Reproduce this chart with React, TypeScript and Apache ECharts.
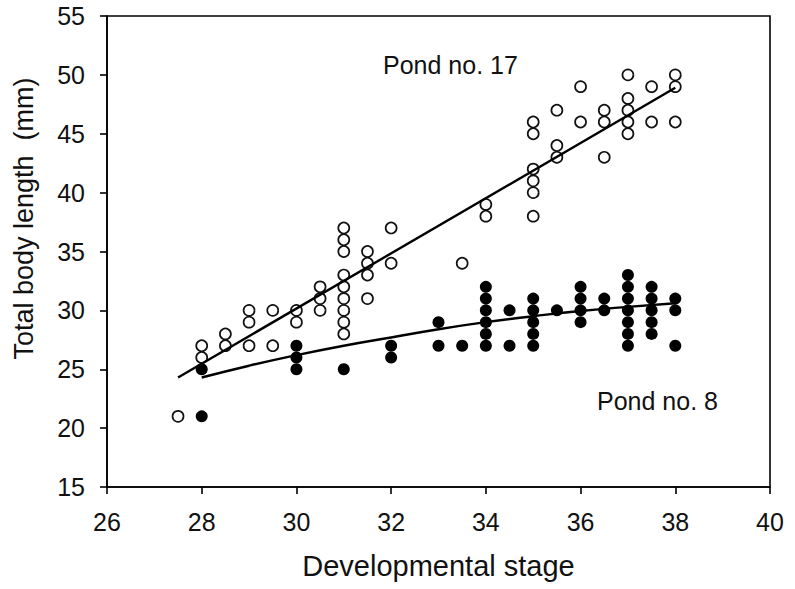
import React, { useEffect, useRef } from "react";
import * as echarts from "echarts";

const xTicks = [26, 28, 30, 32, 34, 36, 38, 40];
const yTicks = [15, 20, 25, 30, 35, 40, 45, 50, 55];

// Pond no. 17 (open circles)
const pond17Points: [number, number][] = [
  [27.5, 21],
  [28, 27], [28, 26],
  [28.5, 28], [28.5, 27],
  [29, 30], [29, 29], [29, 27],
  [29.5, 30], [29.5, 27],
  [30, 30], [30, 29],
  [30.5, 32], [30.5, 31], [30.5, 30],
  [31, 37], [31, 36], [31, 35], [31, 33], [31, 32], [31, 31], [31, 30], [31, 29], [31, 28],
  [31.5, 35], [31.5, 34], [31.5, 33], [31.5, 31],
  [32, 37], [32, 34],
  [33.5, 34],
  [34, 39], [34, 38],
  [35, 46], [35, 45], [35, 42], [35, 41], [35, 40], [35, 38],
  [35.5, 47], [35.5, 44], [35.5, 43],
  [36, 49], [36, 46],
  [36.5, 47], [36.5, 46], [36.5, 43],
  [37, 50], [37, 48], [37, 47], [37, 46], [37, 45],
  [37.5, 49], [37.5, 46],
  [38, 50], [38, 49], [38, 46],
];

// Pond no. 8 (filled circles)
const pond8Points: [number, number][] = [
  [28, 25], [28, 21],
  [30, 27], [30, 26], [30, 25],
  [31, 25],
  [32, 27], [32, 26],
  [33, 29], [33, 27],
  [33.5, 27],
  [34, 32], [34, 31], [34, 30], [34, 29], [34, 28], [34, 27],
  [34.5, 30], [34.5, 27],
  [35, 31], [35, 30], [35, 29], [35, 28], [35, 27],
  [35.5, 30],
  [36, 32], [36, 31], [36, 30], [36, 29],
  [36.5, 31], [36.5, 30],
  [37, 33], [37, 32], [37, 31], [37, 30], [37, 29], [37, 28], [37, 27],
  [37.5, 32], [37.5, 31], [37.5, 30], [37.5, 29], [37.5, 28],
  [38, 31], [38, 30], [38, 27],
];

// Fitted lines
const pond17Fit: [number, number][] = [
  [27.5, 24.3],
  [38, 48.9],
];
const pond8Fit: [number, number][] = [
  [28, 24.3], [29, 25.3], [30, 26.2], [31, 27.0], [32, 27.7], [33, 28.4],
  [34, 29.0], [35, 29.5], [36, 29.95], [37, 30.3], [38, 30.6],
];

const labels = {
  pond17: "Pond no. 17",
  pond8: "Pond no. 8",
  xName: "Developmental stage",
  yName: "Total body length  (mm)",
};

const FONT = "'Liberation Sans', Arial, Helvetica, sans-serif";

export default function App() {
  const ref = useRef<HTMLDivElement>(null);
  useEffect(() => {
    if (!ref.current) return;
    const chart = echarts.init(ref.current, undefined, { renderer: "svg" });
    const axisCommon = {
      axisLine: { show: true, lineStyle: { color: "#000", width: 1.6 } },
      axisTick: { show: true, inside: false, length: 7, lineStyle: { color: "#000", width: 1.6 } },
      splitLine: { show: false },
    };
    chart.setOption({
      animation: false,
      backgroundColor: "#fff",
      textStyle: { fontFamily: FONT },
      grid: {
        left: 107,
        right: 25,
        top: 16,
        bottom: 102,
        show: true,
        borderColor: "#000",
        borderWidth: 1.6,
      },
      xAxis: {
        type: "value",
        min: xTicks[0],
        max: xTicks[xTicks.length - 1],
        interval: 2,
        name: labels.xName,
        nameLocation: "middle",
        nameGap: 64,
        nameTextStyle: { fontFamily: FONT, fontSize: 29, color: "#111", verticalAlign: "top" },
        ...axisCommon,
        axisLabel: { fontFamily: FONT, fontSize: 25, color: "#111", margin: 22 },
      },
      yAxis: {
        type: "value",
        min: yTicks[0],
        max: yTicks[yTicks.length - 1],
        interval: 5,
        name: labels.yName,
        nameLocation: "middle",
        nameGap: 70,
        nameTextStyle: {
          fontFamily: FONT,
          fontSize: 27,
          color: "#111",
          padding: [0, 0, 0, 66],
        },
        ...axisCommon,
        axisLabel: { fontFamily: FONT, fontSize: 25, color: "#111", margin: 22 },
      },
      series: [
        {
          type: "scatter",
          data: pond17Points,
          symbol: "circle",
          symbolSize: 11,
          itemStyle: { color: "#fff", borderColor: "#111", borderWidth: 1.7, opacity: 1 },
          z: 2,
        },
        {
          type: "scatter",
          data: pond8Points,
          symbol: "circle",
          symbolSize: 12,
          itemStyle: { color: "#000", opacity: 1 },
          z: 2,
        },
        {
          type: "line",
          data: pond17Fit,
          showSymbol: false,
          symbol: "none",
          lineStyle: { color: "#000", width: 2.4 },
          z: 3,
        },
        {
          type: "line",
          data: pond8Fit,
          smooth: true,
          showSymbol: false,
          symbol: "none",
          lineStyle: { color: "#000", width: 2.4 },
          z: 3,
        },
      ],
      graphic: [
        {
          type: "text",
          left: 383,
          top: 52,
          style: { text: labels.pond17, fontFamily: FONT, fontSize: 25, fill: "#111" },
        },
        {
          type: "text",
          left: 597,
          top: 388,
          style: { text: labels.pond8, fontFamily: FONT, fontSize: 25, fill: "#111" },
        },
      ],
    });
    return () => chart.dispose();
  }, []);
  return (
    <div
      ref={ref}
      style={{ position: "fixed", left: 0, top: 0, width: 795, height: 589 }}
    />
  );
}
